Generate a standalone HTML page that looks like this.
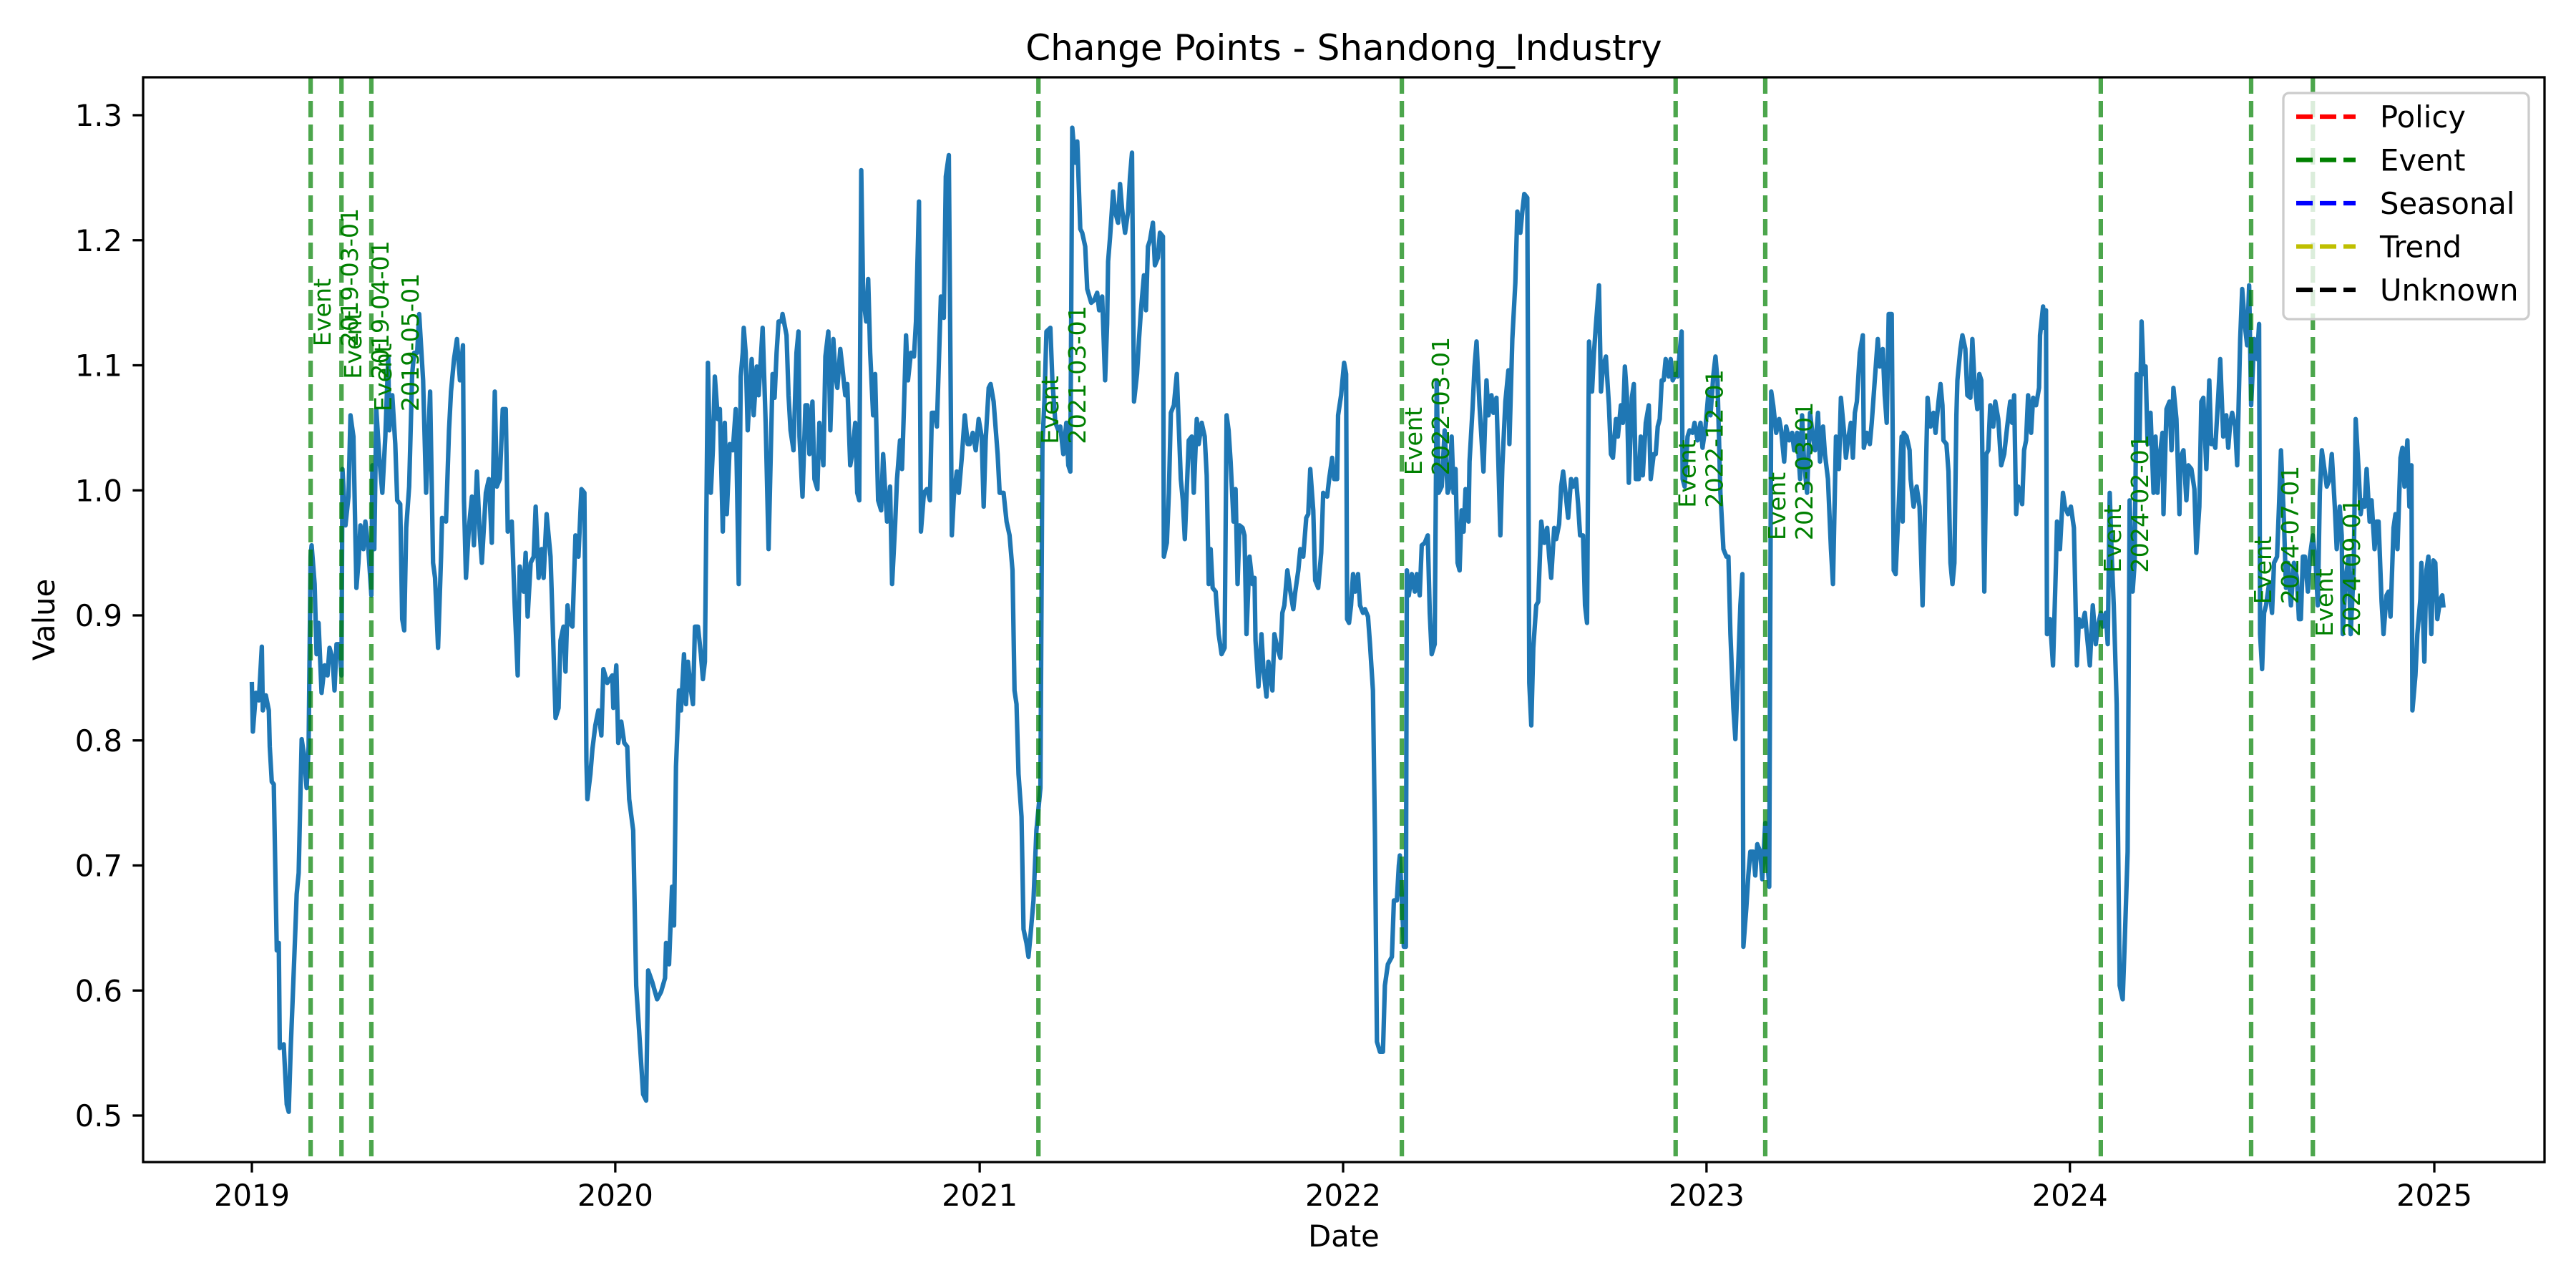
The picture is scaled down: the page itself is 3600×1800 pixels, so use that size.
<!DOCTYPE html>
<html><head><meta charset="utf-8"><title>Change Points - Shandong_Industry</title>
<style>html,body{margin:0;padding:0;background:#fff}svg{display:block}text{font-family:"DejaVu Sans","Liberation Sans",sans-serif}</style>
</head><body>
<svg id="chart" xmlns="http://www.w3.org/2000/svg" width="3600" height="1800" viewBox="0 0 3600 1800">
<rect x="0" y="0" width="3600" height="1800" fill="#fff"/>
<text x="1878" y="84" font-size="50" text-anchor="middle">Change Points - Shandong_Industry</text>
<text x="1878" y="1742" font-size="41.7" text-anchor="middle">Date</text>
<text transform="translate(76,866) rotate(-90)" font-size="41.7" text-anchor="middle">Value</text>
<g id="plot"></g>
</svg>
<script>
const days2019 = [0,1,4,7,10,11,14,17,18,20,22,25,27,28,32,35,37,39,41,44,45,47,50,52,55,57,59,60,63,65,67,70,73,76,78,81,83,85,88,90,91,94,97,99,102,105,107,109,112,114,117,120,121,123,125,128,131,134,137,138,141,144,146,149,151,153,155,158,161,163,166,168,172,175,179,182,184,187,190,191,195,198,200,203,206,209,212,213,215,218,221,223,226,229,231,235,238,241,244,246,249,252,255,257,261,264,267,269,273,275,277,280,283,285,288,291,293,296,300,302,305,308,310,313,315,317,319,322,325,328,331,334,336,337,340,342,345,348,351,353,357,362,363,366,368,371,374,377,379,383,386,390,393,396,398,402,407,411,415,416,419,422,424,426,429,431,434,436,438,441,443,445,448,451,453,455,458,461,463,465,468,470,473,475,477,480,483,486,489,491,493,494,496,498,502,504,507,509,513,516,519,523,525,527,529,532,533,537,539,541,544,547];
const values2019 = [0.845,0.807,0.838,0.832,0.875,0.824,0.836,0.824,0.795,0.767,0.765,0.632,0.638,0.554,0.557,0.509,0.503,0.554,0.593,0.655,0.677,0.694,0.801,0.790,0.762,0.795,0.947,0.956,0.925,0.869,0.894,0.838,0.860,0.852,0.874,0.866,0.840,0.877,0.877,0.852,1.017,0.972,0.995,1.060,1.043,0.922,0.942,0.972,0.953,0.975,0.953,0.916,1.020,0.953,1.065,1.026,0.998,1.043,1.107,1.048,1.076,1.037,0.992,0.989,0.897,0.888,0.970,1.003,1.093,1.110,1.110,1.141,1.088,0.998,1.079,0.942,0.930,0.874,0.947,0.978,0.975,1.048,1.079,1.105,1.121,1.088,1.116,0.992,0.930,0.970,0.995,0.956,1.015,0.964,0.942,0.998,1.009,0.958,1.079,1.003,1.009,1.065,1.065,0.967,0.975,0.908,0.852,0.939,0.919,0.950,0.899,0.942,0.947,0.987,0.930,0.953,0.930,0.981,0.947,0.897,0.818,0.826,0.880,0.891,0.855,0.908,0.894,0.891,0.964,0.947,1.001,0.998,0.784,0.753,0.773,0.793,0.812,0.824,0.804,0.857,0.846,0.852,0.826,0.860,0.798,0.815,0.798,0.795,0.753,0.728,0.604,0.554,0.517,0.512,0.616,0.607,0.593,0.599,0.610,0.638,0.621,0.683,0.652,0.779,0.840,0.824,0.869,0.829,0.863,0.840,0.829,0.891,0.891,0.869,0.849,0.863,1.102,0.998,1.032,1.091,1.057,1.065,0.967,1.054,0.981,1.037,1.032,1.065,0.925,1.091,1.110,1.130,1.110,1.048,1.105,1.060,1.099,1.076,1.130,1.054,0.953,1.093,1.074,1.110,1.135,1.135,1.141,1.124,1.076,1.048,1.032,1.110];
const days2020 = [549,550,553,556,558,560,563,565,568,570,574,576,579,581,584,586,588,591,593,596,598,601,603,606,608,610,612,614,617,619,621,624,626,629,632,634,636,638,641,643,646,648,651,653,655,657,659,662,665,667,670,672,675,678,681,683,686,688,692,695,697,700,703,705,708,710,713,716,719,721,724,727,730,733,735,737,740,742,745,749,751,755,758,761,764,766,768,770,773,775,778,780,782,785,788,792,794,796,798,802,804,807,810,812,815,818,820,822,824,827,829,832,834,837,839,843,846,849,851,854,857,859,860,862,865,867,870,872,874,877,880,882,884,886,889,891,893,896,898,900,902,905,907,910,912,915,916,919,921,923,926,929,933,935,937,941,944,946,949,951,954,957,959,961,963,965,968,971,974,977,979,981,983,986,988,990,992,995,997,999,1002,1005,1007,1008,1011,1014,1016,1019,1021,1025,1027,1030,1033,1035,1037,1040,1043,1046,1048,1051,1053,1056,1059,1061,1063,1066,1068,1071,1074,1076,1080,1082,1085,1087,1090,1091,1094,1097,1099,1100,1102];
const values2020 = [1.127,1.043,0.995,1.068,1.068,1.029,1.071,1.009,1.001,1.054,1.020,1.107,1.127,1.048,1.121,1.093,1.082,1.113,1.099,1.076,1.085,1.020,1.029,1.054,0.998,0.992,1.256,1.155,1.135,1.169,1.110,1.060,1.093,0.992,0.984,1.029,1.001,0.975,1.003,0.925,0.972,1.009,1.040,1.017,1.068,1.124,1.088,1.110,1.107,1.135,1.231,0.967,0.998,1.001,0.992,1.062,1.062,1.051,1.155,1.138,1.251,1.268,0.964,0.995,1.015,0.998,1.026,1.060,1.037,1.037,1.046,1.032,1.057,1.043,0.987,1.040,1.082,1.085,1.071,1.029,0.998,0.998,0.975,0.964,0.936,0.840,0.829,0.773,0.739,0.649,0.638,0.627,0.644,0.672,0.728,0.762,1.037,1.071,1.127,1.130,1.088,1.054,1.048,1.051,1.029,1.054,1.020,1.015,1.290,1.262,1.279,1.209,1.206,1.195,1.161,1.150,1.152,1.158,1.144,1.155,1.088,1.133,1.183,1.203,1.239,1.223,1.214,1.245,1.225,1.206,1.223,1.251,1.270,1.071,1.093,1.121,1.144,1.172,1.144,1.195,1.200,1.214,1.180,1.186,1.206,1.203,0.947,0.958,0.998,1.062,1.068,1.093,1.009,0.992,0.961,1.040,1.043,0.998,1.057,1.037,1.054,1.043,1.012,0.925,0.953,0.922,0.919,0.885,0.869,0.874,1.060,1.048,1.023,0.975,1.001,0.925,0.972,0.970,0.964,0.885,0.947,0.925,0.930,0.880,0.843,0.885,0.857,0.835,0.863,0.840,0.885,0.874,0.866,0.902,0.908,0.936,0.919,0.905,0.919,0.936,0.953,0.947,0.978,0.981,1.017,0.984,0.928,0.922,0.950,0.998,0.995,1.009,1.026,1.009,1.009,1.060,1.076,1.102,1.093,0.897,0.894];
const days2022 = [1104,1106,1108,1111,1113,1116,1118,1121,1123,1126,1128,1130,1133,1136,1138,1141,1145,1147,1150,1152,1153,1155,1157,1159,1160,1162,1165,1168,1170,1173,1175,1178,1181,1183,1185,1188,1190,1192,1195,1198,1201,1203,1205,1207,1209,1211,1213,1215,1217,1219,1222,1223,1226,1228,1230,1233,1237,1240,1242,1245,1247,1250,1252,1254,1256,1259,1262,1263,1266,1269,1271,1274,1276,1278,1281,1283,1285,1287,1290,1292,1295,1298,1301,1303,1305,1308,1310,1313,1315,1317,1319,1322,1325,1327,1330,1332,1334,1337,1339,1341,1343,1346,1348,1350,1353,1355,1357,1360,1363,1365,1367,1370,1372,1375,1377,1379,1381,1383,1386,1388,1390,1393,1395,1397,1400,1403,1405,1408,1410,1412,1414,1416,1418,1420,1423,1425,1427,1430,1432,1434,1436,1437,1439,1442,1444,1447,1449,1452,1455,1457,1460,1463,1465,1468,1470,1472,1475,1478,1481,1483,1485,1488,1490,1493,1495,1497,1498,1501,1503,1505,1508,1510,1512,1515,1517,1520,1522,1524,1526,1528,1531,1534,1536,1539,1541,1544,1547,1549,1552,1555,1557,1559,1562,1565,1567,1570,1573,1575,1578,1580,1583,1586,1588,1591,1594,1596,1599,1601,1603,1606,1608,1610,1612,1615,1618,1619,1622,1625,1627,1630,1633,1635,1638,1640,1642,1644,1647,1649,1651,1654,1657];
const values2022 = [0.908,0.933,0.919,0.933,0.908,0.902,0.905,0.899,0.877,0.840,0.725,0.559,0.551,0.551,0.604,0.621,0.627,0.672,0.672,0.700,0.708,0.672,0.635,0.635,0.936,0.916,0.933,0.919,0.933,0.916,0.956,0.958,0.964,0.902,0.869,0.877,1.088,0.998,1.003,1.048,0.998,1.003,1.043,0.998,1.017,0.942,0.936,0.984,0.967,1.001,0.975,1.023,1.065,1.099,1.119,1.068,1.015,1.088,1.060,1.076,1.062,1.074,1.020,0.964,1.020,1.071,1.096,1.037,1.121,1.166,1.223,1.206,1.223,1.237,1.234,0.846,0.812,0.874,0.908,0.911,0.975,0.958,0.970,0.947,0.930,0.970,0.961,0.973,1.003,1.015,1.001,0.978,1.009,1.003,1.009,0.989,0.964,0.964,0.908,0.894,1.119,1.079,1.110,1.133,1.164,1.079,1.099,1.107,1.068,1.029,1.026,1.057,1.043,1.068,1.054,1.099,1.076,1.006,1.074,1.085,1.009,1.009,1.043,1.012,1.054,1.068,1.009,1.029,1.029,1.051,1.057,1.088,1.088,1.105,1.091,1.105,1.088,1.093,1.091,1.110,1.127,1.009,1.003,1.043,1.048,1.046,1.054,1.040,1.054,1.034,1.051,1.079,1.060,1.093,1.107,1.088,0.998,0.953,0.947,0.947,0.885,0.826,0.801,0.863,0.908,0.933,0.635,0.666,0.692,0.711,0.711,0.692,0.717,0.711,0.689,0.734,0.706,0.683,1.079,1.068,1.046,1.057,1.048,1.023,1.051,1.040,1.046,1.032,1.046,1.009,1.060,1.023,0.998,1.062,1.048,1.032,1.062,1.023,1.051,1.029,1.009,0.953,0.925,1.043,1.017,1.074,1.048,1.026,1.040,1.054,1.026,1.062,1.071,1.110,1.124,1.034,1.046,1.037,1.054,1.088,1.121,1.099,1.113,1.076,1.054,1.141,1.141,0.936,0.933,0.987,1.043];
const days2023 = [1658,1659,1662,1665,1666,1669,1672,1675,1677,1678,1681,1683,1686,1689,1691,1694,1696,1698,1699,1702,1704,1706,1708,1710,1712,1713,1716,1718,1721,1723,1726,1728,1730,1733,1735,1737,1740,1742,1744,1746,1749,1751,1754,1757,1760,1763,1766,1768,1770,1772,1774,1778,1780,1782,1784,1787,1789,1792,1795,1796,1799,1800,1802,1803,1806,1809,1812,1813,1816,1819,1821,1824,1827,1830,1833,1835,1838,1841,1843,1846,1849,1852,1854,1857,1859,1862,1864,1866,1868,1870,1873,1874,1876,1879,1881,1884,1886,1889,1891,1893,1896,1898,1900,1902,1904,1907,1910,1912,1914,1916,1919,1920,1923,1926,1928,1930,1933,1936,1937,1940,1943,1945,1948,1951,1953,1956,1958,1960,1963,1966,1968,1970,1972,1975,1977,1980,1983,1985,1987,1989,1992,1994,1997,1999,2002,2004,2006,2008,2011,2014,2016,2017,2019,2021,2023,2026,2029,2031,2034,2036,2038,2041,2043,2045,2048,2051,2054,2056,2058,2060,2062,2065,2067,2070,2073,2075,2077,2079,2082,2084,2087,2089,2092,2094,2097,2099,2100,2103,2106,2108,2111,2113,2116,2118,2120,2122,2124,2127,2129,2132,2134,2136,2139,2141,2144,2146,2148,2151,2153,2155,2158,2160,2162,2165,2167,2169,2170,2173,2175,2178,2179,2182,2184,2186,2189,2191,2193,2195,2198,2200,2201];
const values2023 = [0.975,1.046,1.043,1.032,1.009,0.987,1.003,0.987,0.936,0.908,1.003,1.074,1.051,1.062,1.046,1.071,1.085,1.068,1.040,1.037,1.015,0.942,0.925,0.942,1.060,1.088,1.113,1.124,1.113,1.076,1.074,1.121,1.088,1.065,1.093,1.088,0.919,1.029,1.032,1.068,1.051,1.071,1.057,1.020,1.029,1.051,1.071,1.054,1.076,0.981,1.003,0.989,1.032,1.040,1.076,1.046,1.074,1.068,1.082,1.124,1.147,1.130,1.144,0.885,0.897,0.860,0.942,0.975,0.953,0.998,0.987,0.981,0.987,0.970,0.860,0.897,0.891,0.902,0.885,0.860,0.908,0.877,0.891,0.902,0.891,0.902,0.877,0.998,0.947,0.908,0.829,0.750,0.604,0.593,0.638,0.711,0.992,0.919,0.942,1.093,1.040,1.135,1.093,1.099,1.037,1.062,0.998,1.043,0.998,1.026,1.046,0.981,1.065,1.071,1.032,1.082,1.057,0.981,1.026,1.032,0.992,1.020,1.017,1.001,0.950,0.987,1.071,1.074,1.017,1.088,1.037,1.040,1.034,1.076,1.105,1.043,1.060,1.034,1.054,1.062,1.051,1.020,1.121,1.161,1.130,1.116,1.164,1.068,1.121,1.105,1.133,0.885,0.857,0.902,0.908,0.925,0.902,0.942,0.947,0.987,1.032,0.975,0.922,0.942,0.908,0.942,0.930,0.897,0.897,0.947,0.947,0.919,0.947,0.964,0.939,0.908,0.998,1.032,1.015,1.003,1.009,1.029,0.987,0.953,0.987,0.964,0.885,0.930,0.947,0.885,0.936,1.057,1.015,0.981,0.992,0.987,1.017,0.975,0.992,0.953,0.975,0.975,0.911,0.885,0.916,0.919,0.899,0.970,0.981,0.953,1.026,1.034,1.003,1.040,0.987,1.020,0.824,0.852,0.885,0.913,0.942,0.863,0.936,0.947,0.885,0.944,0.942,0.897,0.913,0.916,0.908];
const eventDates = ["2019-03-01","2019-04-01","2019-05-01","2021-03-01","2022-03-01","2022-12-01","2023-03-01","2024-02-01","2024-07-01","2024-09-01"];
const eventLabelValues = [1.115,1.089,1.063,1.037,1.012,0.986,0.960,0.934,0.909,0.883];
const yTicks = [0.5,0.6,0.7,0.8,0.9,1.0,1.1,1.2,1.3];
const xTickYears = [2019,2020,2021,2022,2023,2024,2025];
const legendLabels = ["Policy","Event","Seasonal","Trend","Unknown"];
const legendColors = ["#ff0000","#008000","#0000ff","#bfbf00","#000000"];

const NS = "http://www.w3.org/2000/svg";
const plot = document.getElementById("plot");
const AX = {l:200, r:3556, t:108, b:1624};
const D0 = Date.UTC(2019,0,1);
function dayOf(s){const p=s.split("-");return (Date.UTC(+p[0],+p[1]-1,+p[2])-D0)/86400000;}
const DAYS_END = dayOf("2025-01-01");
function xScale(d){return 352 + d*(3402-352)/DAYS_END;}
function yScale(v){return 161 + (1.3 - v)*1747.5;}
function mk(tag, attrs, parent){const e=document.createElementNS(NS,tag);for(const k in attrs)e.setAttribute(k,attrs[k]);(parent||plot).appendChild(e);return e;}

// clip
const defs = mk("defs",{});
const cp = mk("clipPath",{id:"clip"},defs);
mk("rect",{x:AX.l,y:AX.t,width:AX.r-AX.l,height:AX.b-AX.t},cp);

// series line
const allDays = days2019.concat(days2020, days2022, days2023);
const allVals = values2019.concat(values2020, values2022, values2023);
let dstr = "";
for (let i=0;i<Math.min(allDays.length,allVals.length);i++){
  dstr += (i?"L":"M") + xScale(allDays[i]).toFixed(1) + "," + yScale(allVals[i]).toFixed(1);
}
const line = mk("path",{d:dstr,fill:"none",stroke:"#1f77b4","stroke-width":6.25,"stroke-linejoin":"round","stroke-linecap":"square","clip-path":"url(#clip)"});



// event lines + labels
eventDates.forEach((ds,i)=>{
  const x = xScale(dayOf(ds));
  const vl = mk("line",{x1:x,x2:x,y1:AX.t,y2:AX.b,stroke:"#008000","stroke-opacity":0.7,"stroke-width":6.25,"stroke-dasharray":"23,10"});
  
  
  const y = yScale(eventLabelValues[i]);
  const t = mk("text",{transform:"translate("+(x+28)+","+y+") rotate(-90)","font-size":33.3,fill:"#008000"});
  
  
  const s1 = mk("tspan",{x:0,y:0},t); s1.textContent = "Event";
  const s2 = mk("tspan",{x:0,y:38},t); s2.textContent = ds;
});

// axes frame
const frame = mk("rect",{x:AX.l,y:AX.t,width:AX.r-AX.l,height:AX.b-AX.t,fill:"none",stroke:"#000","stroke-width":3.3});



// y ticks
yTicks.forEach(v=>{
  const y = yScale(v);
  const tk = mk("line",{x1:AX.l-14.6,x2:AX.l,y1:y,y2:y,stroke:"#000","stroke-width":3.3});
  
  
  const tl = mk("text",{x:AX.l-29,y:y+15,"font-size":41.7,"text-anchor":"end"});
  
  
  tl.textContent = v.toFixed(1);
});
// x ticks
xTickYears.forEach(yr=>{
  const x = xScale(dayOf(yr+"-01-01"));
  const tk = mk("line",{x1:x,x2:x,y1:AX.b,y2:AX.b+14.6,stroke:"#000","stroke-width":3.3});
  
  
  const tl = mk("text",{x:x,y:1685,"font-size":41.7,"text-anchor":"middle"});
  
  
  tl.textContent = String(yr);
});

// legend
const lg = mk("g",{});


const box = mk("rect",{x:3191,y:130,width:343,height:316,rx:8,ry:8,fill:"#fff","fill-opacity":0.8,stroke:"#cccccc","stroke-width":3.3},lg);


legendLabels.forEach((lab,i)=>{
  const y = 163 + i*60.5;
  const g = mk("g",{},lg);
  
  
  mk("line",{x1:3209,x2:3292,y1:y,y2:y,stroke:legendColors[i],"stroke-width":6.25,"stroke-dasharray":"23,10"},g);
  const t = mk("text",{x:3326,y:y+15,"font-size":41.7},g);
  t.textContent = lab;
});
</script>
</body></html>
